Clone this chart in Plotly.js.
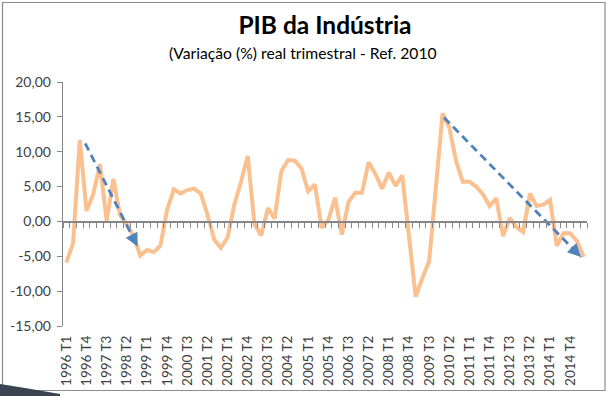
<!DOCTYPE html>
<html>
<head>
<meta charset="utf-8">
<script src="https://cdn.plot.ly/plotly-3.0.1.min.js"></script>
<style>
  html, body { margin: 0; padding: 0; background: #ffffff; }
  #chart { width: 608px; height: 396px; }
</style>
</head>
<body>
<div id="chart"></div>
<script>
// ---- data ----
const years = [1996,1997,1998,1999,2000,2001,2002,2003,2004,2005,2006,2007,2008,2009,2010,2011,2012,2013,2014,2015];
const quarters = ["T1","T2","T3","T4"];
const pibIndustria = [
  -5.9, -3.1, 11.7, 1.5, 3.9, 8.2, 0.1, 6.1, 0.9, -0.4,
  -2.1, -4.9, -4.1, -4.4, -3.5, 1.7, 4.6, 4.0, 4.5, 4.7,
  4.0, 1.0, -2.6, -3.8, -2.3, 2.4, 5.7, 9.4, -0.4, -2.0,
  1.9, 0.4, 7.2, 8.8, 8.7, 7.6, 4.3, 5.3, -0.9, 0.2,
  3.4, -1.9, 2.8, 4.1, 4.1, 8.5, 6.8, 4.7, 7.0, 5.1,
  6.6, -2.5, -10.8, -8.1, -5.7, 4.8, 15.5, 13.5, 8.7, 5.7,
  5.7, 5.0, 3.9, 2.2, 3.3, -2.1, 0.5, -0.8, -1.5, 4.0,
  2.2, 2.4, 3.1, -3.5, -1.7, -1.7, -2.8, -5.1
];
// trend arrows: [x index, value] of start and end
const trend1X = [2.8, 10.6];
const trend1Y = [11.2, -3.6];
const trend2X = [56.2, 76.6];
const trend2Y = [14.9, -5.1];
const yTickVals = [-15, -10, -5, 0, 5, 10, 15, 20];
const yTickText = ["-15,00", "-10,00", "-5,00", "0,00", "5,00", "10,00", "15,00", "20,00"];

// category labels
const categories = [];
years.forEach(y => quarters.forEach(q => categories.push(y + " " + q)));
const cats = categories.slice(0, pibIndustria.length);
const xIdx = cats.map((_, i) => i);
const labelVals = xIdx.filter(i => i % 3 === 0);
const labelText = labelVals.map(i => cats[i]);
const boundaryTicks = [];
for (let i = 0; i <= cats.length; i++) boundaryTicks.push(i - 0.5);

const orange = "#FAC08F";
const blue = "#4F81BD";
const gray = "#868686";
const fontFam = "Lato, 'Open Sans', sans-serif";

// geometry helpers (plot area in pixels)
const W = 608, H = 396, L = 63, R = 21, T = 82, B = 70;
const pw = W - L - R, ph = H - T - B;
const px = x => (x - L) / pw;
const py = y => (H - B - y) / ph;
const yMin = -15, yMax = 20;

const traces = [
  {
    x: xIdx, y: pibIndustria, type: "scatter", mode: "lines",
    line: { color: orange, width: 4 }, hoverinfo: "skip", showlegend: false
  },
  {
    x: trend1X, y: trend1Y, xaxis: "x2", type: "scatter", mode: "lines",
    line: { color: blue, width: 2.8, dash: "8px,5px" }, showlegend: false, hoverinfo: "skip"
  },
  {
    x: trend2X, y: trend2Y, xaxis: "x2", type: "scatter", mode: "lines",
    line: { color: blue, width: 2.8, dash: "8px,5px" }, showlegend: false, hoverinfo: "skip"
  }
];

function arrowHead(xs, ys) {
  const f = 0.08;
  return {
    x: xs[1], y: ys[1], xref: "x", yref: "y",
    ax: xs[1] - (xs[1] - xs[0]) * f, ay: ys[1] - (ys[1] - ys[0]) * f,
    axref: "x", ayref: "y", showarrow: true, arrowhead: 2, arrowsize: 1.1,
    arrowwidth: 2.4, arrowcolor: blue, text: "", standoff: 0
  };
}

const layout = {
  width: W, height: H,
  margin: { l: L, r: R, t: T, b: B, pad: 0 },
  paper_bgcolor: "#ffffff", plot_bgcolor: "rgba(0,0,0,0)",
  font: { family: fontFam, color: "#404040", size: 12 },
  title: {
    text: "<b>PIB da Indústria</b>",
    font: { family: fontFam, size: 24.5, color: "#000000" },
    x: 0.5, xanchor: "center", xref: "paper",
    y: 1 - 25 / H, yanchor: "middle", yref: "container"
  },
  showlegend: false,
  xaxis: {
    range: [-0.5, cats.length - 0.5], showgrid: false, zeroline: false,
    showline: false, ticks: "", tickmode: "array", tickvals: labelVals, ticktext: labelText,
    tickangle: -90, ticklabelstandoff: 6,
    tickfont: { family: fontFam, size: 13.5, color: "#404040" }, fixedrange: true
  },
  xaxis2: {
    overlaying: "x", anchor: "free", position: (0 - yMin) / (yMax - yMin), side: "bottom",
    range: [-0.5, cats.length - 0.5], showgrid: false, zeroline: false,
    showline: true, linecolor: gray, linewidth: 1.3,
    ticks: "outside", ticklen: 5, tickcolor: gray, tickwidth: 1,
    tickmode: "array", tickvals: boundaryTicks, showticklabels: false, fixedrange: true
  },
  yaxis: {
    range: [yMin, yMax], showgrid: false, zeroline: false,
    showline: true, linecolor: gray, linewidth: 1.3,
    ticks: "outside", ticklen: 5, tickcolor: gray, ticklabelstandoff: 3,
    tickmode: "array", tickvals: yTickVals, ticktext: yTickText,
    tickfont: { family: fontFam, size: 14, color: "#404040" }, fixedrange: true
  },
  annotations: [
    {
      text: "(Variação (%) real trimestral - Ref. 2010",
      xref: "paper", yref: "paper", x: px(303), y: py(53),
      xanchor: "center", yanchor: "middle", showarrow: false,
      font: { family: fontFam, size: 15.7, color: "#000000" }
    },
    arrowHead(trend1X, trend1Y),
    arrowHead(trend2X, trend2Y)
  ],
  shapes: [
    {
      type: "rect", xref: "paper", yref: "paper",
      x0: px(2.5), x1: px(605), y0: py(390.5), y1: py(2.5),
      line: { color: "#8c8c8c", width: 1.2 }, fillcolor: "rgba(0,0,0,0)", layer: "below"
    },
    {
      type: "path", xref: "paper", yref: "paper",
      path: "M " + px(0) + " " + py(384) + " L " + px(25) + " " + py(388) +
            " L " + px(60) + " " + py(394) + " L " + px(60) + " " + py(396) +
            " L " + px(0) + " " + py(396) + " Z",
      fillcolor: "#3a4450", line: { width: 0 }, layer: "above"
    }
  ]
};

Plotly.newPlot("chart", traces, layout, { displayModeBar: false, staticPlot: true });
</script>
</body>
</html>
